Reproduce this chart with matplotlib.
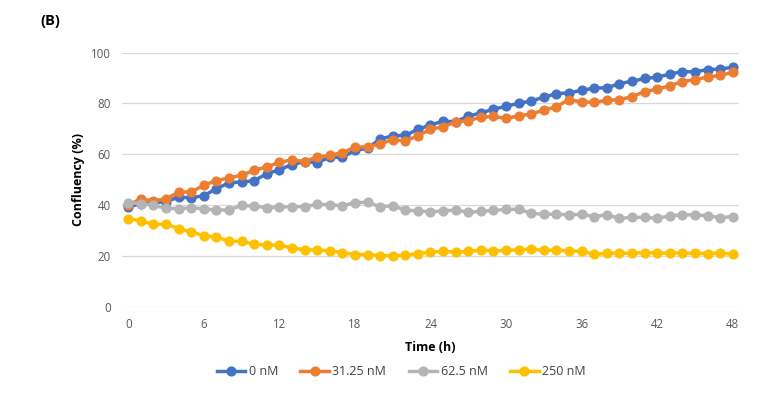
import matplotlib.pyplot as plt

hours = list(range(49))

conf_0 = [39.4, 40.7, 41.0, 41.5, 43.2, 43.0, 43.8, 46.6, 48.8, 49.2,
          49.7, 52.4, 54.0, 56.0, 57.2, 56.8, 58.9, 58.8, 61.6, 62.4,
          66.0, 67.3, 67.5, 69.8, 71.6, 73.0, 72.9, 75.0, 76.3, 77.7,
          78.9, 80.1, 80.9, 82.5, 83.8, 84.2, 85.1, 86.1, 86.1, 87.8,
          88.7, 89.8, 90.3, 91.5, 92.5, 92.4, 93.3, 93.5, 94.2]
conf_31 = [40.2, 42.5, 41.8, 42.5, 45.2, 45.3, 47.9, 49.7, 50.8, 51.8,
           53.8, 55.1, 56.9, 57.9, 57.2, 59.0, 59.6, 60.7, 62.8, 63.0,
           64.1, 65.8, 65.3, 67.3, 69.9, 70.8, 72.8, 73.2, 74.6, 74.9,
           74.1, 75.1, 75.9, 77.4, 78.7, 81.5, 80.6, 80.5, 81.2, 81.5,
           82.7, 84.6, 85.6, 86.9, 88.6, 89.3, 90.4, 91.0, 92.3]
conf_62 = [41.1, 40.7, 40.0, 38.9, 38.6, 39.1, 38.6, 38.2, 38.2, 40.0,
           39.7, 39.1, 39.3, 39.5, 39.5, 40.4, 40.3, 39.8, 41.1, 41.2,
           39.5, 39.8, 38.2, 37.8, 37.5, 37.8, 38.2, 37.3, 37.6, 38.0,
           38.4, 38.5, 36.9, 36.5, 36.5, 36.3, 36.5, 35.6, 36.3, 34.9,
           35.3, 35.3, 34.9, 35.9, 36.3, 36.3, 35.9, 35.2, 35.6]
conf_250 = [34.8, 33.9, 32.5, 32.7, 30.8, 29.6, 28.1, 27.6, 25.9, 25.9,
            24.7, 24.5, 24.3, 23.4, 22.5, 22.5, 22.1, 21.5, 20.7, 20.7,
            20.3, 20.2, 20.4, 21.1, 21.6, 22.0, 21.6, 21.9, 22.5, 22.1,
            22.3, 22.6, 22.9, 22.3, 22.5, 22.1, 22.0, 20.8, 21.2, 21.2,
            21.2, 21.5, 21.2, 21.3, 21.3, 21.2, 21.1, 21.3, 20.9]

series = [("0 nM", conf_0, "#4472C4"),
          ("31.25 nM", conf_31, "#ED7D31"),
          ("62.5 nM", conf_62, "#B4B4B4"),
          ("250 nM", conf_250, "#FFC000")]

plt.rcParams['font.family'] = ['Open Sans', 'DejaVu Sans']

fig = plt.figure(figsize=(7.82, 4.07), dpi=100)
ax = fig.add_axes([0.156, 0.245, 0.789, 0.626])

for name, vals, col in series:
    ax.plot(hours, vals, color=col, lw=2.5, marker='o', ms=6.3, label=name)

ax.set_xlim(-0.5, 48.5)
ax.set_ylim(0, 100)
ax.set_xticks(range(0, 49, 6))
ax.set_yticks(range(0, 101, 20))
ax.grid(axis='y', color='#D9D9D9', lw=0.9)
ax.set_axisbelow(True)
for s in ax.spines.values():
    s.set_visible(False)
ax.tick_params(length=0, labelsize=8.3, labelcolor='#595959', pad=8)

ax.set_xlabel("Time (h)", fontsize=9, fontweight='bold', labelpad=7)
ax.set_ylabel("Confluency (%)", fontsize=9, fontweight='bold', labelpad=4)
fig.text(0.051, 0.948, "(B)", fontsize=10.5, fontweight='bold', va='center')

fig.legend(loc='center', bbox_to_anchor=(0.513, 0.086), ncol=4, frameon=False,
           fontsize=9, handlelength=2.3, handletextpad=0.25, columnspacing=1.8,
           labelcolor='#404040')

fig.savefig("out.png", dpi=100)
